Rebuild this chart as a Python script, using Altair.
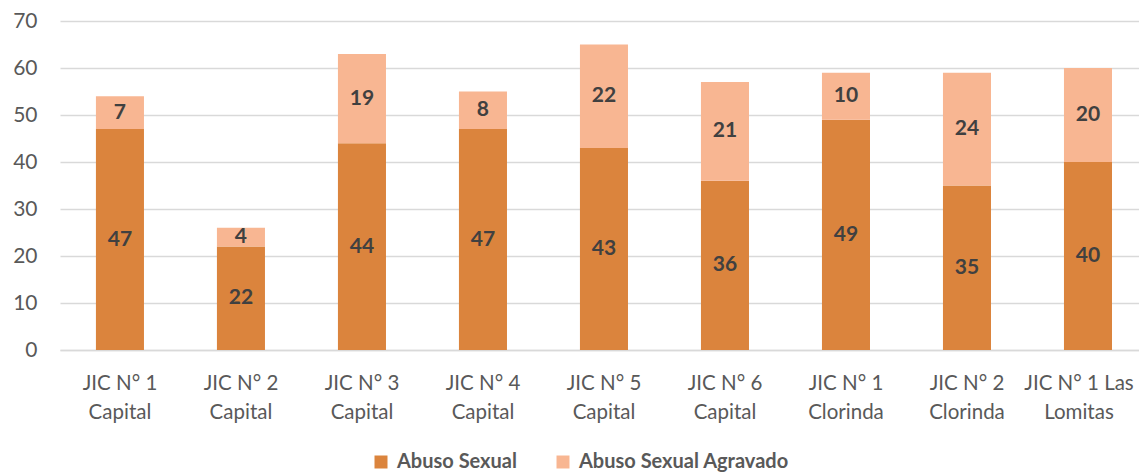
import altair as alt
import pandas as pd

categories = ["JIC N° 1|Capital", "JIC N° 2|Capital", "JIC N° 3|Capital", "JIC N° 4|Capital",
              "JIC N° 5|Capital", "JIC N° 6|Capital", "JIC N° 1|Clorinda", "JIC N° 2|Clorinda",
              "JIC N° 1 Las|Lomitas"]
abuso_sexual = [47, 22, 44, 47, 43, 36, 49, 35, 40]
abuso_agravado = [7, 4, 19, 8, 22, 21, 10, 24, 20]
series = ["Abuso Sexual", "Abuso Sexual Agravado"]
colors = ["#DB843D", "#F8B692"]

rows = []
for c, a, b in zip(categories, abuso_sexual, abuso_agravado):
    rows.append({"cat": c, "series": series[0], "value": a, "order": 0})
    rows.append({"cat": c, "series": series[1], "value": b, "order": 1})
df = pd.DataFrame(rows)

FONT = "Lato"
base = alt.Chart(df).transform_stack(
    stack="value", as_=["v0", "v1"], groupby=["cat"], sort=[alt.SortField("order")]
).transform_calculate(mid="(datum.v0 + datum.v1) / 2")

x = alt.X("cat:N", sort=categories, title=None,
          scale=alt.Scale(paddingInner=0.603, paddingOuter=0.26, align=0.571),
          axis=alt.Axis(labelExpr="split(datum.label, '|')", labelAngle=0, labelColor="#595959",
                        labelFont=FONT, labelFontSize=20.5, labelLineHeight=29, labelPadding=23,
                        labelLimit=0, ticks=False, domainColor="#D9D9D9", domainWidth=1.5,
                        labelBaseline="top",
                        labelOffset={"condition": {"test": "datum.value == 'JIC N° 1 Las|Lomitas'",
                                                   "value": -9}, "value": 0}))

bars = base.mark_bar().encode(
    x=x,
    y=alt.Y("v0:Q", title=None, scale=alt.Scale(domain=[0, 70]),
            axis=alt.Axis(values=list(range(0, 71, 10)), labelColor="#595959", labelFont=FONT,
                          labelFontSize=21, labelPadding=23, ticks=False, domain=False,
                          gridColor="#D9D9D9", gridWidth=1.5)),
    y2="v1:Q",
    color=alt.Color("series:N", scale=alt.Scale(domain=series, range=colors),
                    legend=alt.Legend(title=None, orient="none", direction="horizontal",
                                      legendX=311, legendY=431, symbolType="square",
                                      symbolSize=169, symbolStrokeWidth=0, symbolOpacity=1,
                                      labelFont=FONT, labelFontSize=20, labelFontWeight="bold",
                                      labelColor="#595959", labelOffset=6, columnPadding=36,
                                      labelLimit=0)),
    order=alt.Order("order:Q"),
)

labels = base.mark_text(font=FONT, fontSize=21, fontWeight="bold", color="#404040",
                        baseline="middle").encode(
    x=alt.X("cat:N", sort=categories),
    y=alt.Y("mid:Q"),
    text="value:Q",
)

chart = alt.layer(bars, labels).properties(
    width=1079, height=329,
    autosize=alt.AutoSizeParams(type="none"),
    padding={"left": 52, "top": 13, "right": 0, "bottom": 122},
).configure_view(stroke=None).configure_axis(gridColor="#D9D9D9")

chart.save("out.html", embed_options={"renderer": "svg", "actions": False})
